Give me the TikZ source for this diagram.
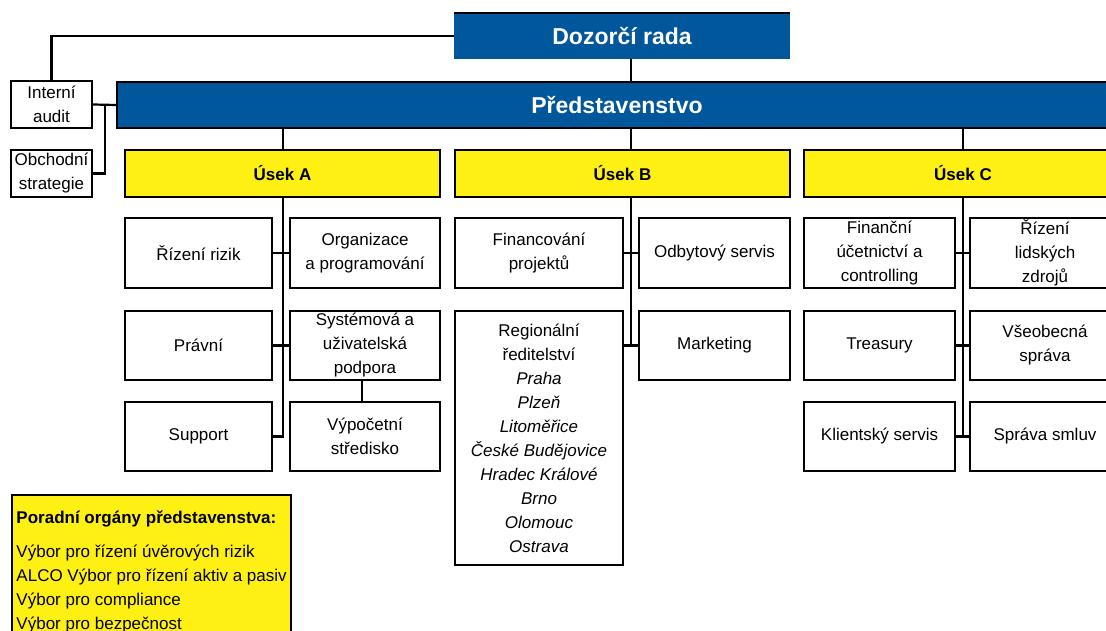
\documentclass[tikz,border=0pt]{standalone}
\usepackage{fontspec}
\setmainfont{Liberation Sans}
\usetikzlibrary{positioning}
\definecolor{boardblue}{RGB}{0,87,155}
\definecolor{usekyellow}{RGB}{255,240,20}

\tikzset{
  unit/.style={draw, line width=2pt, fill=white, align=center, inner sep=0pt, minimum height=69pt},
  usek/.style={draw, line width=2.2pt, fill=usekyellow, inner sep=0pt, minimum height=47pt, font=\fontsize{17pt}{24pt}\selectfont\bfseries},
  board/.style={fill=boardblue, text=white, inner sep=0pt, minimum height=46pt, font=\fontsize{23pt}{28pt}\selectfont\bfseries},
  link/.style={line width=2.2pt},
}

\begin{document}
\begin{tikzpicture}[x=1pt, y=-1pt, font=\fontsize{17pt}{24pt}\selectfont]
        \useasboundingbox (0,0) rectangle (1106,631);
        \clip (0,0) rectangle (1106,631);
        % vedeni
        \node[board, minimum width=336pt] (dozor) at (622,36) {Dozorčí rada};
        \draw[line width=2.2pt] (dozor.north west) -- (dozor.north east);
        \node[board, draw=black, line width=2.2pt, minimum width=1000pt] (pred) at (617,105) {Představenstvo};
        \node[unit, minimum width=81pt, minimum height=47pt] (audit) at (51.5,104.5) {Interní\\audit};
        \node[unit, minimum width=81pt, minimum height=47pt] (obchod) at (51.5,173.5) {Obchodní\\strategie};
        \coordinate (spineA) at (283,0);
        \coordinate (spineB) at (631,0);
        \coordinate (spineC) at (963,0);
        \coordinate (fork) at (105,105);
        % useky
        \node[usek, minimum width=315pt] (usekA) at (282.5,173.5) {Úsek A};
        \node[usek, minimum width=335pt] (usekB) at (622.5,173.5) {Úsek B};
        \node[usek, minimum width=318pt] (usekC) at (963,173.5) {Úsek C};
        % usek A
        \node[unit, minimum width=147pt] (rizik) at (198.5,253) {Řízení rizik};
        \node[unit, minimum width=150pt] (organiz) at (365,253) {Organizace\\a programování};
        \node[unit, minimum width=147pt] (pravni) at (198.5,345.5) {Právní};
        \node[unit, minimum width=150pt] (system) at (365,345.5) {Systémová a\\uživatelská\\podpora};
        \node[unit, minimum width=147pt] (support) at (198.5,436.5) {Support};
        \node[unit, minimum width=150pt] (vypocet) at (365,436.5) {Výpočetní\\středisko};
        % usek B
        \node[unit, minimum width=168pt] (finproj) at (539,253) {Financování\\projektů};
        \node[unit, minimum width=151pt] (odbyt) at (714.5,253) {Odbytový servis};
        \node[unit, minimum width=168pt, minimum height=254pt] (region) at (539,438) {Regionální\\ředitelství\\\textit{Praha}\\\textit{Plzeň}\\\textit{Litoměřice}\\\textit{České Budějovice}\\\textit{Hradec Králové}\\\textit{Brno}\\\textit{Olomouc}\\\textit{Ostrava}};
        \node[unit, minimum width=151pt] (marketing) at (714.5,345.5) {Marketing};
        % usek C
        \node[unit, minimum width=151pt] (finucet) at (879.5,253) {Finanční\\účetnictví a\\controlling};
        \node[unit, minimum width=150pt] (lidske) at (1045,253) {Řízení\\lidských\\zdrojů};
        \node[unit, minimum width=151pt] (treasury) at (879.5,345.5) {Treasury};
        \node[unit, minimum width=150pt] (sprava) at (1045,345.5) {Všeobecná\\správa};
        \node[unit, minimum width=151pt] (klient) at (879.5,436.5) {Klientský servis};
        \node[unit, minimum width=150pt] (smlouvy) at (1045,436.5) {Správa smluv};
        % poradni organy
        \node[draw, line width=2.2pt, fill=usekyellow, anchor=north west, align=left, inner xsep=4pt, inner ysep=16pt, minimum width=279pt] (porad) at (11,494) {\textbf{Poradní orgány představenstva:}\\[10pt]Výbor pro řízení úvěrových rizik\\ALCO Výbor pro řízení aktiv a pasiv\\Výbor pro compliance\\Výbor pro bezpečnost};
        % spojnice
        \draw[link] (dozor.west) -| (audit.north);
        \draw[link] (dozor.south -| spineB) -- (pred.north -| spineB);
        \draw[link] (audit.east) -- (pred.west);
        \draw[link] (obchod.east) -| (fork);
        \draw[link] (pred.south -| spineA) -- (usekA.north -| spineA);
        \draw[link] (pred.south -| spineB) -- (usekB.north -| spineB);
        \draw[link] (pred.south -| spineC) -- (usekC.north -| spineC);
        \draw[link] (usekA.south -| spineA) -- (spineA |- support.east) -- (support.east);
        \draw[link] (rizik.east) -- (organiz.west);
        \draw[link] (pravni.east) -- (system.west);
        \draw[line width=1.2pt] (system.south -| 362,0) -- (vypocet.north -| 362,0);
        \draw[link] (usekB.south -| spineB) -- (spineB |- marketing.west);
        \draw[link] (finproj.east) -- (odbyt.west);
        \draw[link] (region.east |- marketing.west) -- (marketing.west);
        \draw[link] (usekC.south -| spineC) -- (spineC |- klient.east);
        \draw[link] (finucet.east) -- (lidske.west);
        \draw[link] (treasury.east) -- (sprava.west);
        \draw[link] (klient.east) -- (smlouvy.west);
    \end{tikzpicture}
\end{document}
